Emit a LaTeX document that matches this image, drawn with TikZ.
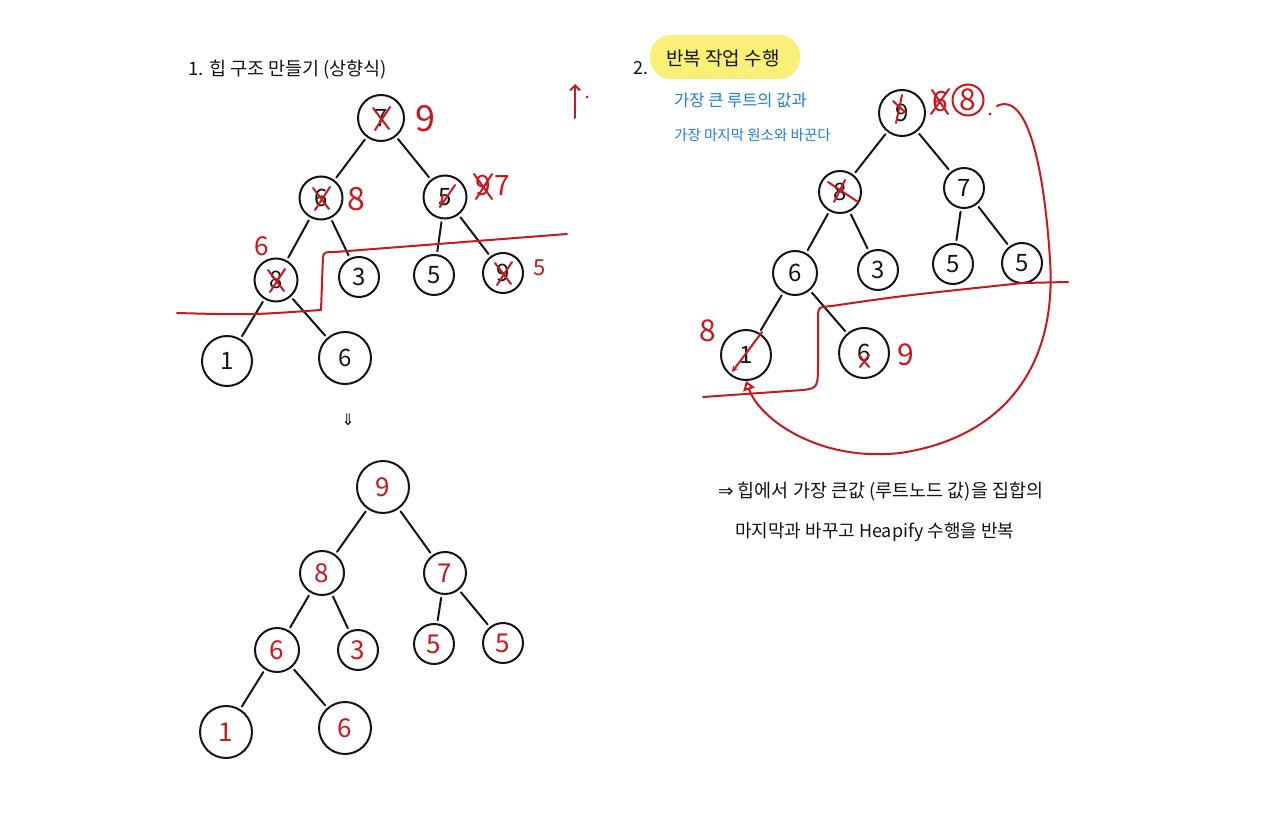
\documentclass[tikz,border=0pt]{standalone}
\usepackage{fontspec}
\setmainfont{Noto Sans CJK KR}
\newfontfamily\sym{DejaVu Sans}
\usetikzlibrary{arrows.meta}
\definecolor{pen}{RGB}{20,20,20}
\definecolor{redpen}{RGB}{200,25,30}
\definecolor{bluepen}{RGB}{30,125,225}
\definecolor{hl}{RGB}{250,240,120}
\begin{document}
\begin{tikzpicture}[x=1pt,y=-1pt,
  nd/.style={circle,draw=pen,line width=2pt,inner sep=0pt,minimum size=#1pt,font=\fontsize{24}{24}\selectfont,text=pen},
  rnd/.style={nd=#1,text=redpen,font=\fontsize{26}{26}\selectfont},
  edge/.style={draw=pen,line width=2pt,line cap=round,shorten <=3pt,shorten >=3pt},
  rl/.style={draw=redpen,line width=2pt,line cap=round,line join=round},
  rlab/.style={text=redpen,inner sep=0pt,font=\fontsize{#1}{#1}\selectfont},
  txt/.style={inner sep=0pt,anchor=west,text=pen,font=\fontsize{#1}{#1}\selectfont},
  btxt/.style={txt=#1,text=bluepen}]
\useasboundingbox[fill=white] (0,0) rectangle (1280,829);

% ---------- titles ----------
\node[txt=18.5] (t1) at (188,70) {1. 힙 구조 만들기 (상향식)};
\node[txt=18] (t2) at (633,68) {2.};
\node[fill=hl,rounded corners=21pt,minimum width=150pt,minimum height=44pt,inner sep=0pt] (hlb) at (725,57) {};
\node[txt=19] (t2b) at (666,58) {반복 작업 수행};
\node[btxt=16.5] (b1t) at (674,100) {가장 큰 루트의 값과};
\node[btxt=14.5] (b2t) at (674,135) {가장 마지막 원소와 바꾼다};
\node[txt=18.5] (c1t) at (718,492) {{\sym ⇒} 힙에서 가장 큰값 (루트노드 값)을 집합의};
\node[txt=18] (c2t) at (735,532) {마지막과 바꾸고 Heapify 수행을 반복};
\node[inner sep=0pt,text=pen,font=\sym\fontsize{16}{16}\selectfont] (dn) at (348,420) {⇓};

% red up arrow
\coordinate (ua) at (575,118);
\coordinate (ub) at (575,84);
\draw[rl,-{Straight Barb[length=5pt,width=10pt]}] (ua) -- (ub);
\fill[redpen] (587,97) circle (1.5pt);

% ---------- tree 1 ----------
\node[nd=46] (a1) at (381,118) {7};
\node[nd=43] (b1) at (321,198) {6};
\node[nd=43] (c1) at (445,197) {5};
\node[nd=43] (d1) at (276,280) {8};
\node[nd=40] (e1) at (359,277) {3};
\node[nd=40] (f1) at (434,275) {5};
\node[nd=40] (g1) at (503,273) {9};
\node[nd=50] (h1) at (227,361) {1};
\node[nd=52] (i1) at (345,358) {6};
\foreach \p/\c in {a1/b1,a1/c1,b1/d1,b1/e1,c1/f1,c1/g1,d1/h1,d1/i1}
  \draw[edge] (\p) -- (\c);
% red crosses
\foreach \n in {a1,b1,d1,g1}
  \draw[rl] ([shift={(-8,-10)}]\n.center) -- ([shift={(8,11)}]\n.center)
            ([shift={(9,-11)}]\n.center) -- ([shift={(-6,12)}]\n.center);
\draw[rl] ([shift={(-5,10)}]c1.center) -- ([shift={(-2,-2)}]c1.center)
          ([shift={(-5,10)}]c1.center) -- ([shift={(10,-12)}]c1.center);
\node[rlab=36] (l9) at (425,119) {9};
\node[rlab=32] (l8) at (356,199) {8};
\node[rlab=28] (l9b) at (483,186) {9};
\draw[rl] (474,174) -- (492,199) (492,174) -- (476,199);
\node[rlab=28] (l7) at (502,186) {7};
\node[rlab=26] (l6) at (262,246) {6};
\node[rlab=22] (l5) at (540,268) {5};
% red partition
\draw[rl] (177,313) .. controls (250,315) .. (321,310) -- (323,256) .. controls (325,252) .. (335,252) -- (567,234);

% ---------- tree 2 ----------
\node[nd=46] (a2) at (902,113) {9};
\node[nd=42] (b2) at (840,192) {8};
\node[nd=40] (c2) at (964,188) {7};
\node[nd=44] (d2) at (795,273) {6};
\node[nd=40] (e2) at (878,270) {3};
\node[nd=40] (f2) at (953,264) {5};
\node[nd=40] (g2) at (1022,263) {5};
\node[nd=50] (h2) at (746,355) {1};
\node[nd=50] (i2) at (864,353) {6};
\foreach \p/\c in {a2/b2,a2/c2,b2/d2,b2/e2,c2/f2,c2/g2,d2/h2,d2/i2}
  \draw[edge] (\p) -- (\c);
\draw[rl] ([shift={(0,-18)}]a2.center) -- ([shift={(-6,10)}]a2.center)
          ([shift={(-9,-12)}]a2.center) -- ([shift={(4,0)}]a2.center);
\draw[rl] ([shift={(5,-12)}]b2.center) -- ([shift={(-6,10)}]b2.center)
          ([shift={(-12,-10)}]b2.center) -- ([shift={(18,10)}]b2.center);
\draw[rl] ([shift={(-5,2)}]i2.center) -- ([shift={(5,14)}]i2.center)
          ([shift={(5,2)}]i2.center) -- ([shift={(-4,14)}]i2.center);
\node[rlab=28] (r6) at (940,102) {6};
\draw[rl] (931,114) -- (949,89) (932,90) -- (948,114);
\node[rlab=30,circle,draw=redpen,line width=2pt,minimum size=31pt] (c8) at (968,100) {8};
\fill[redpen] (990,114) circle (1.6pt);
\coordinate (cs) at (997,106);
\node[rlab=30] (l8b) at (708,331) {8};
\node[rlab=30] (l9c) at (906,355) {9};
% line through node 1
\draw[rl,-{Stealth[length=6pt,width=6pt]}] ([shift={(16,-23)}]h2.center) -- ([shift={(-14,17)}]h2.center);
% red partition
\draw[rl] (703,397) .. controls (760,393) .. (803,390) .. controls (818,388) .. (818,360) -- (818,320) .. controls (818,307) .. (832,306) .. controls (900,296) .. (1023,283) -- (1068,282);
% big curve
\draw[rl,-{Triangle[open,length=9pt,width=12pt]}] (cs) .. controls (1030,90) and (1045,180) .. (1050,260)
   .. controls (1058,380) and (990,440) .. (900,453)
   .. controls (820,462) and (760,420) .. (h2.south);

% ---------- tree 3 ----------
\node[rnd=52] (a3) at (383,487) {9};
\node[rnd=44] (b3) at (322,573) {8};
\node[rnd=42] (c3) at (445,573) {7};
\node[rnd=44] (d3) at (277,650) {6};
\node[rnd=40] (e3) at (358,650) {3};
\node[rnd=40] (f3) at (434,644) {5};
\node[rnd=40] (g3) at (503,643) {5};
\node[rnd=52] (h3) at (226,732) {1};
\node[rnd=52] (i3) at (345,728) {6};
\foreach \p/\c in {a3/b3,a3/c3,b3/d3,b3/e3,c3/f3,c3/g3,d3/h3,d3/i3}
  \draw[edge] (\p) -- (\c);
\end{tikzpicture}
\end{document}
